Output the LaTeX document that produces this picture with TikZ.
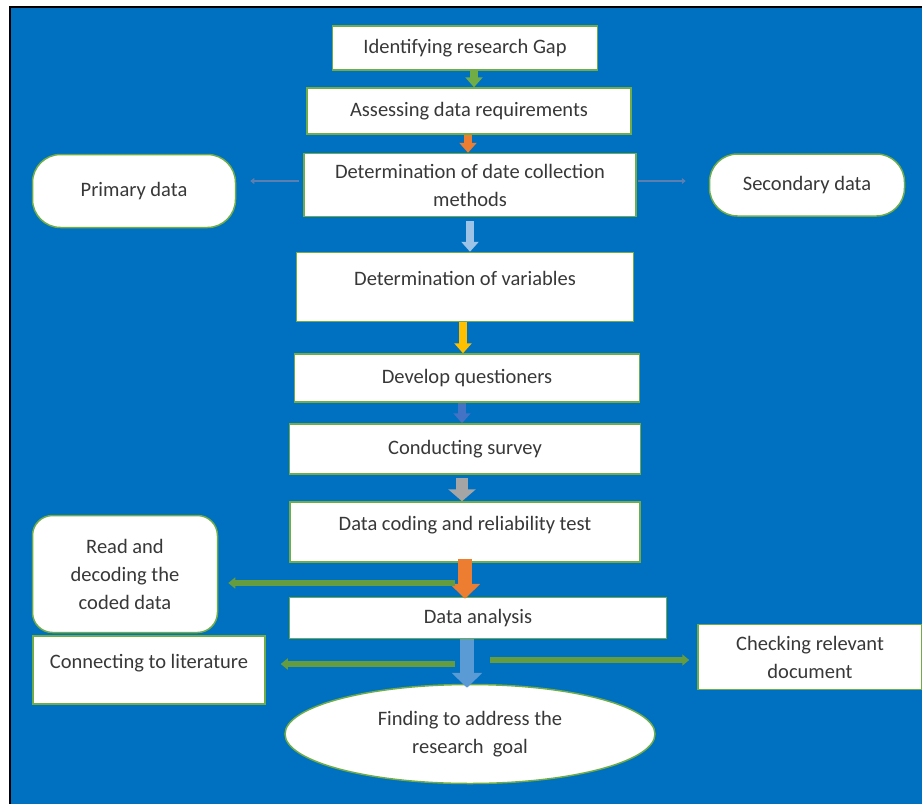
\documentclass[tikz,border=0pt]{standalone}
\usepackage{fontspec}
\setmainfont{Carlito}
\usepackage{tikz}
\usetikzlibrary{arrows.meta,positioning,calc,shapes.geometric}
\definecolor{bgblue}{HTML}{0070C0}
\definecolor{boxgreen}{HTML}{70AD47}
\definecolor{txtgray}{HTML}{383838}
\definecolor{arrorange}{HTML}{ED7D31}
\definecolor{arrsky}{HTML}{9DC3E6}
\definecolor{arrgold}{HTML}{FFC000}
\definecolor{arrblue}{HTML}{4472C4}
\definecolor{arrgray}{HTML}{A5A5A5}
\definecolor{arrlight}{HTML}{5B9BD5}
\definecolor{arrthin}{HTML}{5A7FB0}
\tikzstyle{block} = [draw=boxgreen, line width=1.5pt, fill=white, rectangle,
    inner sep=0pt, align=center, text=txtgray]
\tikzstyle{rblock} = [block, rounded corners=28pt]
\tikzstyle{tblock} = [block, text depth=17pt]
\tikzstyle{goal} = [block, ellipse]
\tikzstyle{flow} = [line width=8pt, -{Triangle[width=17pt,length=10pt]}]
\tikzstyle{bigflow} = [line width=14pt, -{Triangle[width=30pt,length=15pt]}]
\tikzstyle{side} = [draw=boxgreen!90!black, line width=6pt, -{Triangle[width=11pt,length=7pt]}]
\tikzstyle{thin} = [draw=arrthin, line width=2pt, -{Triangle[width=6pt,length=4pt]}]

\begin{document}
\begin{tikzpicture}[x=1pt, y=-1pt, font=\fontsize{20.5}{28}\selectfont]
    % background and frame
    \useasboundingbox (0,0) rectangle (922,804);
    \fill[white] (0,0) rectangle (922,804);
    \filldraw[fill=bgblue, draw=black, line width=1.5pt] (10,7) rectangle (924,806);
    % We start by placing the blocks
    \node [block, minimum width=265pt, minimum height=44pt] (gap) at (465,48) {Identifying research Gap};
    \node [block, minimum width=324pt, minimum height=46pt] (assess) at (469,111) {Assessing data requirements};
    \node [block, minimum width=332pt, minimum height=63pt] (method) at (470,185) {Determination of date collection\\methods};
    \node [rblock, minimum width=203pt, minimum height=73pt] (primary) at (134,191) {Primary data};
    \node [rblock, minimum width=195pt, minimum height=62pt] (secondary) at (807,185) {Secondary data};
    \node [tblock, minimum width=337pt, minimum height=69pt] (vars) at (465,287) {Determination of variables};
    \node [block, minimum width=345pt, minimum height=48pt] (quest) at (467,378) {Develop questioners};
    \node [block, minimum width=351pt, minimum height=50pt] (survey) at (465,449) {Conducting survey};
    \node [tblock, minimum width=350pt, minimum height=60pt] (coding) at (465,532) {Data coding and reliability test};
    \node [rblock, rounded corners=20pt, minimum width=185pt, minimum height=117pt] (decode) at (125,574) {Read and\\decoding the\\coded data};
    \node [block, minimum width=377pt, minimum height=41pt] (analysis) at (478,618) {Data analysis};
    \node [tblock, minimum width=232pt, minimum height=68pt] (lit) at (149,670) {Connecting to literature};
    \node [block, minimum width=224pt, minimum height=65pt] (check) at (810,657) {Checking relevant\\document};
    \node [goal, minimum width=370pt, minimum height=99pt] (find) at (470,734) {Finding to address the\\research~~goal};
    % points where the side arrows leave the main flow
    \coordinate (toread) at (455,583);
    \coordinate (tolit) at (455,664);
    \coordinate (tocheck) at (490,660);
    % Once the nodes are placed, connecting them is easy.
    \draw [flow, boxgreen] ([xshift=9pt]gap.south) -- ([xshift=9pt]gap.south |- assess.north);
    \draw [flow, arrorange] ([xshift=-1pt]assess.south) -- ([xshift=-1pt]assess.south |- method.north);
    \draw [flow, arrsky] ([yshift=-4pt]method.south) -- (method.south |- vars.north);
    \draw [flow, arrgold] ([xshift=-2pt]vars.south) -- ([xshift=-2pt]vars.south |- quest.north);
    \draw [flow, arrblue] ([xshift=-5pt]quest.south) -- ([xshift=-5pt]quest.south |- survey.north);
    \draw [flow, arrgray, line width=12pt, -{Triangle[width=27pt,length=12pt]}] ([xshift=-3pt,yshift=-3pt]survey.south) -- ([xshift=-3pt]survey.south |- coding.north);
    \draw [bigflow, arrorange] ([yshift=4pt]coding.south) -- ([yshift=-2pt]coding.south |- analysis.north);
    \draw [bigflow, arrlight] ([xshift=-11pt]analysis.south) -- ([xshift=-11pt,yshift=-4pt]analysis.south |- find.north);
    \draw [thin] ([yshift=4pt,xshift=-4pt]method.west) -- ([yshift=4pt,xshift=14pt]method.west -| primary.east);
    \draw [thin] ([yshift=4pt,xshift=1pt]method.east) -- ([yshift=4pt,xshift=-23pt]method.east -| secondary.west);
    \draw [side] (toread) -- ([xshift=10pt]toread -| decode.east);
    \draw [side] (tolit) -- ([xshift=15pt]tolit -| lit.east);
    \draw [side] (tocheck) -- ([xshift=-8pt]tocheck -| check.west);
\end{tikzpicture}
\end{document}
